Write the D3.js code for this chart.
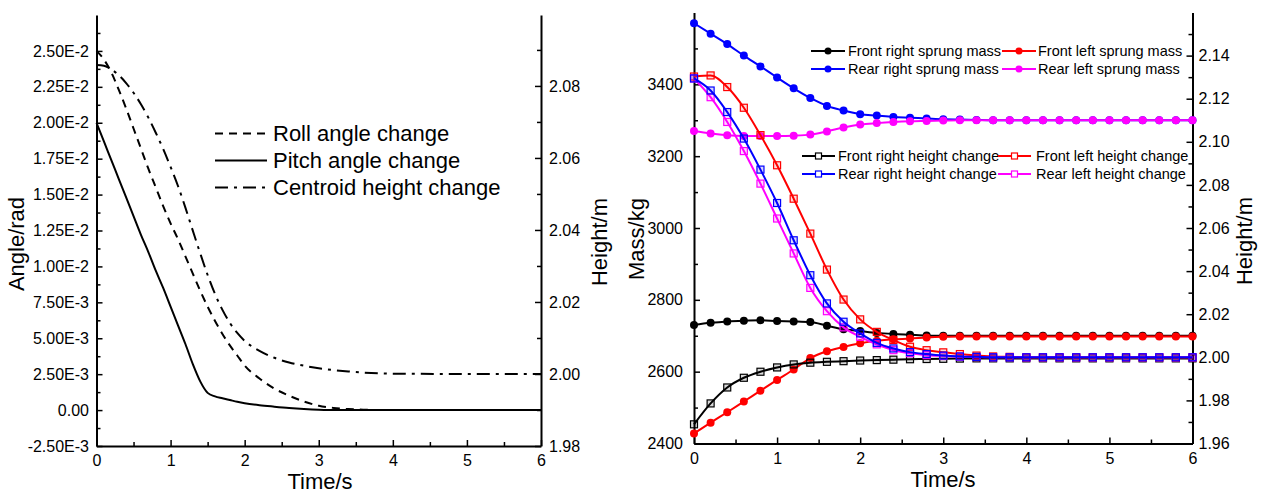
<!DOCTYPE html>
<html>
<head>
<meta charset="utf-8">
<script src="https://cdn.jsdelivr.net/npm/d3@7"></script>
<style>
  body { margin: 0; background: #fff; }
  svg text { font-family: "Liberation Sans", Arial, sans-serif; fill: #000; }
</style>
</head>
<body>
<svg id="chart" width="1262" height="494"></svg>
<script>
// ---------- left panel: angles and centroid height ----------
const angleTime = [0, 0.1, 0.2, 0.3, 0.4, 0.5, 0.6, 0.7, 0.8, 0.9, 1.0, 1.1, 1.2, 1.3, 1.4, 1.5, 1.6, 1.7, 1.8, 1.9, 2.0,
                   2.2, 2.4, 2.6, 2.8, 3.0, 3.2, 3.4, 3.6, 3.8, 4.0, 5.0, 6.0];
const rollAngle = [0.0250, 0.0244, 0.0235, 0.0223, 0.0210, 0.0196, 0.0182, 0.0168, 0.0155, 0.0142, 0.0130, 0.0119, 0.0107,
                   0.0095, 0.0083, 0.0072, 0.0062, 0.0053, 0.0045, 0.0038, 0.0031,
                   0.0022, 0.0015, 0.0010, 0.0006, 0.0003, 0.00015, 0.00007, 0.00003, 0.00001, 0, 0, 0];
const pitchAngle = [0.0200, 0.0187, 0.0174, 0.0161, 0.0148, 0.0135, 0.0122, 0.0110, 0.0097, 0.0085, 0.0072, 0.0059, 0.0046,
                    0.0032, 0.0020, 0.0012, 0.00095, 0.00082, 0.00070, 0.00058, 0.00048,
                    0.00034, 0.00024, 0.00015, 0.00008, 0.00003, 0.00001, 0, 0, 0, 0, 0, 0];
const centroidHeight = [2.0858, 2.0856, 2.0846, 2.0830, 2.0808, 2.0781, 2.0749, 2.0712, 2.0670, 2.0625, 2.0575, 2.0522, 2.0462,
                        2.0398, 2.0335, 2.0275, 2.0222, 2.0178, 2.0142, 2.0114, 2.0092,
                        2.0064, 2.0045, 2.0032, 2.0023, 2.0016, 2.0011, 2.0007, 2.0004, 2.0002, 2.0001, 2.0000, 2.0000];

const timeTicks = [0, 1, 2, 3, 4, 5, 6];
const timeTickLabels = ["0", "1", "2", "3", "4", "5", "6"];
const angleTicks = [-0.0025, 0, 0.0025, 0.005, 0.0075, 0.01, 0.0125, 0.015, 0.0175, 0.02, 0.0225, 0.025];
const angleTickLabels = ["-2.50E-3", "0.00", "2.50E-3", "5.00E-3", "7.50E-3", "1.00E-2", "1.25E-2", "1.50E-2",
                         "1.75E-2", "2.00E-2", "2.25E-2", "2.50E-2"];
const leftHeightTicks = [1.98, 2.00, 2.02, 2.04, 2.06, 2.08];
const leftHeightTickLabels = ["1.98", "2.00", "2.02", "2.04", "2.06", "2.08"];

const angleLegend = ["Roll angle change", "Pitch angle change", "Centroid height change"];

// ---------- right panel: sprung masses and heights ----------
const massTime = [0, 0.2, 0.4, 0.6, 0.8, 1.0, 1.2, 1.4, 1.6, 1.8, 2.0, 2.2, 2.4, 2.6, 2.8, 3.0,
                  3.2, 3.4, 3.6, 3.8, 4.0, 4.2, 4.4, 4.6, 4.8, 5.0, 5.2, 5.4, 5.6, 5.8, 6.0];
const frontRightMass = [2730, 2736, 2740, 2742, 2743, 2741, 2740, 2738, 2728, 2718, 2713, 2708, 2705, 2703, 2701, 2700,
                        2700, 2700, 2700, 2700, 2700, 2700, 2700, 2700, 2700, 2700, 2700, 2700, 2700, 2700, 2700];
const frontLeftMass = [2428, 2458, 2487, 2517, 2547, 2577, 2606, 2638, 2657, 2669, 2679, 2686, 2690, 2692, 2695, 2697,
                       2698, 2698, 2698, 2698, 2698, 2698, 2698, 2698, 2698, 2698, 2698, 2698, 2698, 2698, 2698];
const rearRightMass = [3570, 3541, 3512, 3480, 3450, 3419, 3389, 3362, 3340, 3327, 3317, 3313, 3309, 3307, 3305, 3303,
                       3302, 3301, 3300, 3300, 3300, 3300, 3300, 3300, 3300, 3300, 3300, 3300, 3300, 3300, 3300];
const rearLeftMass = [3270, 3263, 3258, 3256, 3256, 3256, 3257, 3260, 3269, 3280, 3288, 3292, 3295, 3297, 3298, 3299,
                      3300, 3300, 3300, 3300, 3300, 3300, 3300, 3300, 3300, 3300, 3300, 3300, 3300, 3300, 3300];

const frontRightHeight = [1.9689, 1.9786, 1.9860, 1.9905, 1.9933, 1.9953, 1.9967, 1.9975, 1.9979, 1.9982, 1.9985, 1.9987,
                          1.9989, 1.9991, 1.9992, 1.9993, 1.9994, 1.9995, 1.9995, 1.9995, 1.9995, 1.9995, 1.9995, 1.9995,
                          1.9995, 1.9995, 1.9995, 1.9995, 1.9995, 1.9995, 1.9995];
const frontLeftHeight = [2.1303, 2.1308, 2.1254, 2.1158, 2.1031, 2.0891, 2.0736, 2.0574, 2.0407, 2.0268, 2.0176, 2.0118,
                         2.0080, 2.0049, 2.0033, 2.0023, 2.0015, 2.0008, 2.0004, 2.0002, 2.0000, 2.0000, 2.0000, 2.0000,
                         2.0000, 2.0000, 2.0000, 2.0000, 2.0000, 2.0000, 2.0000];
const rearRightHeight = [2.1294, 2.1238, 2.1138, 2.1015, 2.0871, 2.0716, 2.0543, 2.0381, 2.0250, 2.0165, 2.0111, 2.0067,
                         2.0041, 2.0024, 2.0015, 2.0008, 2.0004, 2.0002, 2.0000, 2.0000, 2.0000, 2.0000, 2.0000, 2.0000,
                         2.0000, 2.0000, 2.0000, 2.0000, 2.0000, 2.0000, 2.0000];
const rearLeftHeight = [2.1294, 2.1207, 2.1092, 2.0957, 2.0806, 2.0644, 2.0482, 2.0322, 2.0214, 2.0139, 2.0095, 2.0060,
                        2.0033, 2.0019, 2.0010, 2.0006, 2.0003, 2.0001, 2.0000, 2.0000, 2.0000, 2.0000, 2.0000, 2.0000,
                        2.0000, 2.0000, 2.0000, 2.0000, 2.0000, 2.0000, 2.0000];

const massTicks = [2400, 2600, 2800, 3000, 3200, 3400];
const massTickLabels = ["2400", "2600", "2800", "3000", "3200", "3400"];
const rightHeightTicks = [1.96, 1.98, 2.00, 2.02, 2.04, 2.06, 2.08, 2.10, 2.12, 2.14];
const rightHeightTickLabels = ["1.96", "1.98", "2.00", "2.02", "2.04", "2.06", "2.08", "2.10", "2.12", "2.14"];

const massSeriesNames = ["Front right sprung mass", "Front left sprung mass", "Rear right sprung mass", "Rear left sprung mass"];
const heightSeriesNames = ["Front right height change", "Front left height change", "Rear right height change", "Rear left height change"];

const fontSans = '"Liberation Sans", Arial, sans-serif';
const svg = d3.select("#chart");

// midpoints between major ticks, for the small ticks
function minorTicks(major, lo, hi) {
  const step = major[1] - major[0];
  const out = [];
  for (let v = major[0] - step / 2; v <= hi + 1e-9; v += step) {
    if (v >= lo - 1e-9) out.push(v);
  }
  return out;
}

function styleAxis(g, size) {
  g.attr("font-family", fontSans).attr("font-size", size);
  g.select(".domain").attr("stroke", "#000").attr("stroke-width", 2);
  g.selectAll(".tick line").attr("stroke", "#000").attr("stroke-width", 1.5);
  g.selectAll(".tick text").attr("fill", "#000");
}

function addMinor(axisFn, scale, values, transform) {
  const g = svg.append("g")
      .attr("transform", transform)
      .call(axisFn(scale).tickValues(values).tickSize(-4).tickFormat(""));
  g.select(".domain").remove();
  g.selectAll(".tick line").attr("stroke", "#000").attr("stroke-width", 1.5);
}

function axisTitle(text, x, y, rotate) {
  svg.append("text")
      .attr("transform", `translate(${x},${y})` + (rotate ? " rotate(-90)" : ""))
      .attr("text-anchor", "middle")
      .attr("font-size", 22)
      .text(text);
}

// ================= LEFT PANEL =================
const leftX = d3.scaleLinear().domain([0, 6]).range([96.5, 541]);
const angleY = d3.scaleLinear().domain([-0.0025, 0.0275]).range([446, 15]);
const leftHeightY = d3.scaleLinear().domain([1.98, 2.0997]).range([446, 15]);

addMinor(d3.axisBottom, leftX, minorTicks(timeTicks, 0, 6), "translate(0,446)");
addMinor(d3.axisLeft, angleY, minorTicks(angleTicks, -0.0025, 0.0275), "translate(96.5,0)");
addMinor(d3.axisRight, leftHeightY, minorTicks(leftHeightTicks, 1.98, 2.0997), "translate(541,0)");

svg.append("g")
    .attr("transform", "translate(0,446)")
    .call(d3.axisBottom(leftX).tickValues(timeTicks).tickFormat((d, i) => timeTickLabels[i])
      .tickSizeInner(-6).tickSizeOuter(0).tickPadding(9))
    .call(g => styleAxis(g, 16));

svg.append("g")
    .attr("transform", "translate(96.5,0)")
    .call(d3.axisLeft(angleY).tickValues(angleTicks).tickFormat((d, i) => angleTickLabels[i])
      .tickSizeInner(-6).tickSizeOuter(0).tickPadding(7.5))
    .call(g => styleAxis(g, 16));

svg.append("g")
    .attr("transform", "translate(541,0)")
    .call(d3.axisRight(leftHeightY).tickValues(leftHeightTicks).tickFormat((d, i) => leftHeightTickLabels[i])
      .tickSizeInner(-6).tickSizeOuter(0).tickPadding(8))
    .call(g => styleAxis(g, 16));

axisTitle("Angle/rad", 24, 244, true);
axisTitle("Height/m", 607, 242, true);
axisTitle("Time/s", 320, 489, false);

const angleLine = d3.line()
    .x((d, i) => leftX(angleTime[i]))
    .y(d => angleY(d))
    .curve(d3.curveMonotoneX);
const centroidLine = d3.line()
    .x((d, i) => leftX(angleTime[i]))
    .y(d => leftHeightY(d))
    .curve(d3.curveMonotoneX);

const leftStyles = [
  { dash: "8,6" },
  { dash: null },
  { dash: "13,6,3,6" }
];

svg.append("path").attr("d", angleLine(pitchAngle))
    .attr("fill", "none").attr("stroke", "#000").attr("stroke-width", 2);
svg.append("path").attr("d", angleLine(rollAngle))
    .attr("fill", "none").attr("stroke", "#000").attr("stroke-width", 2).attr("stroke-dasharray", leftStyles[0].dash);
svg.append("path").attr("d", centroidLine(centroidHeight))
    .attr("fill", "none").attr("stroke", "#000").attr("stroke-width", 2).attr("stroke-dasharray", leftStyles[2].dash);

// Legend (left)
const leftLegend = svg.append("g")
    .selectAll("g")
    .data(angleLegend)
    .join("g")
    .attr("transform", (d, i) => `translate(215,${133.5 + i * 27})`);
leftLegend.append("line")
    .attr("x1", 0).attr("x2", 52).attr("y1", 0).attr("y2", 0)
    .attr("stroke", "#000").attr("stroke-width", 2)
    .attr("stroke-dasharray", (d, i) => leftStyles[i].dash);
leftLegend.append("text")
    .attr("x", 58).attr("y", 0)
    .attr("dominant-baseline", "central")
    .attr("font-size", 22)
    .text(d => d);

// ================= RIGHT PANEL =================
const rightX = d3.scaleLinear().domain([0, 6]).range([694, 1192.5]);
const massY = d3.scaleLinear().domain([2400, 3600]).range([443.5, 12.5]);
const rightHeightY = d3.scaleLinear().domain([1.96, 2.16]).range([443.5, 12.5]);

addMinor(d3.axisBottom, rightX, minorTicks(timeTicks, 0, 6), "translate(0,443.5)");
addMinor(d3.axisLeft, massY, minorTicks(massTicks, 2400, 3600), "translate(694,0)");
addMinor(d3.axisRight, rightHeightY, minorTicks(rightHeightTicks, 1.96, 2.16), "translate(1192.5,0)");

svg.append("g")
    .attr("transform", "translate(0,443.5)")
    .call(d3.axisBottom(rightX).tickValues(timeTicks).tickFormat((d, i) => timeTickLabels[i])
      .tickSizeInner(-6).tickSizeOuter(0).tickPadding(9))
    .call(g => styleAxis(g, 16));

svg.append("g")
    .attr("transform", "translate(694,0)")
    .call(d3.axisLeft(massY).tickValues(massTicks).tickFormat((d, i) => massTickLabels[i])
      .tickSizeInner(-6).tickSizeOuter(0).tickPadding(11))
    .call(g => styleAxis(g, 16));

svg.append("g")
    .attr("transform", "translate(1192.5,0)")
    .call(d3.axisRight(rightHeightY).tickValues(rightHeightTicks).tickFormat((d, i) => rightHeightTickLabels[i])
      .tickSizeInner(-6).tickSizeOuter(0).tickPadding(6))
    .call(g => styleAxis(g, 16));

axisTitle("Mass/kg", 644, 239, true);
axisTitle("Height/m", 1252, 241, true);
axisTitle("Time/s", 943, 487, false);

const massColors = ["#000000", "#ff0000", "#0000ff", "#ff00ff"];

const massSeries = [frontRightMass, frontLeftMass, rearRightMass, rearLeftMass];
const heightSeries = [frontRightHeight, frontLeftHeight, rearRightHeight, rearLeftHeight];

function drawCircleSeries(values, color, yScale) {
  const line = d3.line()
      .x((d, i) => rightX(massTime[i]))
      .y(d => yScale(d))
      .curve(d3.curveMonotoneX);
  const g = svg.append("g");
  g.append("path").attr("d", line(values))
      .attr("fill", "none").attr("stroke", color).attr("stroke-width", 2);
  g.selectAll("circle")
      .data(values)
      .join("circle")
      .attr("cx", (d, i) => rightX(massTime[i]))
      .attr("cy", d => yScale(d))
      .attr("r", 4)
      .attr("fill", color);
}

function drawSquareSeries(values, color, yScale) {
  const line = d3.line()
      .x((d, i) => rightX(massTime[i]))
      .y(d => yScale(d))
      .curve(d3.curveMonotoneX);
  const g = svg.append("g");
  g.append("path").attr("d", line(values))
      .attr("fill", "none").attr("stroke", color).attr("stroke-width", 2);
  g.selectAll("rect")
      .data(values)
      .join("rect")
      .attr("x", (d, i) => rightX(massTime[i]) - 3.5)
      .attr("y", d => yScale(d) - 3.5)
      .attr("width", 7)
      .attr("height", 7)
      .attr("fill", color)
      .attr("fill-opacity", 0.15)
      .attr("stroke", color)
      .attr("stroke-width", 1.2);
}

// masses first, then heights (blue height on top)
massSeries.forEach((s, i) => drawCircleSeries(s, massColors[i], massY));
[0, 1, 3, 2].forEach(i => drawSquareSeries(heightSeries[i], massColors[i], rightHeightY));

// Legends (right)
const massLegendPos = [
  { x: 811, y: 51, text: 848 }, { x: 1002, y: 51, text: 1038 },
  { x: 811, y: 69, text: 848 }, { x: 1002, y: 69, text: 1038 }
];
const heightLegendPos = [
  { x: 802, y: 156, text: 838 }, { x: 998, y: 156, text: 1036 },
  { x: 802, y: 174, text: 838 }, { x: 998, y: 174, text: 1036 }
];

const massLegend = svg.append("g")
    .selectAll("g")
    .data(massSeriesNames)
    .join("g")
    .attr("transform", (d, i) => `translate(${massLegendPos[i].x},${massLegendPos[i].y})`);
massLegend.append("line")
    .attr("x1", 0).attr("x2", 34).attr("y1", 0).attr("y2", 0)
    .attr("stroke", (d, i) => massColors[i]).attr("stroke-width", 2);
massLegend.append("circle")
    .attr("cx", 17).attr("cy", 0).attr("r", 3.5)
    .attr("fill", (d, i) => massColors[i]);
massLegend.append("text")
    .attr("x", (d, i) => massLegendPos[i].text - massLegendPos[i].x)
    .attr("y", 0)
    .attr("dominant-baseline", "central")
    .attr("font-size", 14.5)
    .text(d => d);

const heightLegend = svg.append("g")
    .selectAll("g")
    .data(heightSeriesNames)
    .join("g")
    .attr("transform", (d, i) => `translate(${heightLegendPos[i].x},${heightLegendPos[i].y})`);
heightLegend.append("line")
    .attr("x1", 0).attr("x2", 33).attr("y1", 0).attr("y2", 0)
    .attr("stroke", (d, i) => massColors[i]).attr("stroke-width", 2);
heightLegend.append("rect")
    .attr("x", 13.5).attr("y", -3).attr("width", 6).attr("height", 6)
    .attr("fill", "#fff")
    .attr("stroke", (d, i) => massColors[i]).attr("stroke-width", 1.2);
heightLegend.append("text")
    .attr("x", (d, i) => heightLegendPos[i].text - heightLegendPos[i].x)
    .attr("y", 0)
    .attr("dominant-baseline", "central")
    .attr("font-size", 14.5)
    .text(d => d);
</script>
</body>
</html>
